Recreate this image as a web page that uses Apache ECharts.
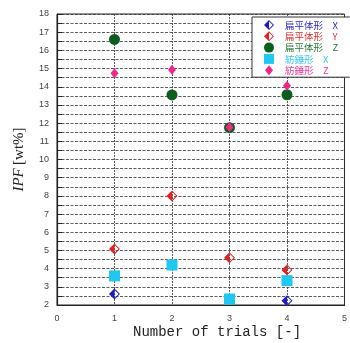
<!DOCTYPE html>
<html><head><meta charset="utf-8">
<script src="https://cdn.jsdelivr.net/npm/echarts@6/dist/echarts.min.js"></script>
<style>html,body{margin:0;padding:0;background:#fff}#c{width:350px;height:343px}</style>
</head><body><div id="c"></div>
<script>
const trials = [1, 2, 3, 4];
const seriesNames = ['扁平体形\u3000X', '扁平体形\u3000Y', '扁平体形\u3000Z', '紡錘形\u3000X', '紡錘形\u3000Z'];
const flatX = [2.6, null, null, 2.24];
const flatY = [5.08, 8.0, 4.6, 3.93];
const flatZ = [16.6, 13.55, 11.75, 13.56];
const spindleX = [3.6, 4.2, 2.33, 3.34];
const spindleZ = [14.74, 14.94, 11.77, 14.06];
const yTicks = [2, 18, 1];
const xTicks = [0, 5, 1];

const colors = ['#1a1acc', '#e52020', '#0b5e1e', '#1ec8f0', '#f0288c'];
const textColors = ['#2a2ad0', '#e03030', '#2a7a3a', '#33c8ee', '#ee3399'];
const halfDiamond = 'path://M0,-10 L10,0 L0,10 L-10,0 Z M0,-7.5 L-7.5,0 L0,7.5 L7.5,0 Z M0,-10 L0,10 L-10,0 Z';
const squarePath = 'path://M0,0 L10,0 L10,10 L0,10 Z';
const diamondPath = 'path://M0,-10 L8,0 L0,10 L-8,0 Z';

function pts(arr) { return trials.map((t, i) => arr[i] == null ? null : [t, arr[i]]).filter(Boolean); }
const dataSets = [flatX, flatY, flatZ, spindleX, spindleZ];
const symbols = [halfDiamond, halfDiamond, 'circle', squarePath, diamondPath];
const sizes = [11, 11, 11, 11, 10];
const legendSizes = [10, 10, 10, 9, 9];

const chart = echarts.init(document.getElementById('c'));
chart.setOption({
  animation: false,
  grid: { left: 57, top: 14, right: -0.5, bottom: 38, show: true, borderColor: '#222', borderWidth: 1 },
  xAxis: {
    type: 'value', min: xTicks[0], max: xTicks[1], interval: xTicks[2],
    axisLine: { show: true, lineStyle: { color: '#222', width: 1.2 } },
    axisTick: { show: false },
    axisLabel: { color: '#444', fontSize: 9, fontFamily: 'Liberation Sans', margin: 9 },
    splitLine: { show: true, lineStyle: { color: '#333', type: [2, 1], width: 0.8 } }
  },
  yAxis: {
    type: 'value', min: yTicks[0], max: yTicks[1], interval: yTicks[2],
    axisLine: { show: true, lineStyle: { color: '#222', width: 1.2 } },
    axisTick: { show: true, inside: true, length: 5, lineStyle: { color: '#222' } },
    minorTick: { show: true, splitNumber: 2, length: 5, lineStyle: { color: '#222' } },
    axisLabel: { color: '#444', fontSize: 9, fontFamily: 'Liberation Sans', margin: 8 },
    splitLine: { show: true, lineStyle: { color: '#333', type: [3, 1.5], width: 0.8 } },
    minorSplitLine: { show: true, lineStyle: { color: '#333', type: [3, 1.5], width: 0.8 } },
    name: '{i|IPF} {n|[wt%]}', nameLocation: 'middle', nameGap: 30, nameRotate: 90,
    nameTextStyle: {
      rich: {
        i: { fontFamily: 'Liberation Serif', fontStyle: 'italic', fontSize: 15, color: '#222' },
        n: { fontFamily: 'Liberation Serif', fontSize: 15, color: '#222' }
      }
    }
  },
  legend: {
    orient: 'vertical', left: 252, top: 17,
    padding: [3, 40, 2, 12], itemGap: 1.3, itemWidth: 22, itemHeight: 10,
    borderColor: '#333', borderWidth: 1, backgroundColor: '#fff',
    textStyle: { fontSize: 9.5, lineHeight: 10, fontFamily: 'Noto Sans CJK JP', padding: [0, 0, 0, 0] },
    data: seriesNames.map((n, i) => ({ name: n, icon: symbols[i], textStyle: { color: textColors[i] } }))
  },
  graphic: [{
    type: 'text', left: 133, top: 325,
    style: { text: 'Number of trials [-]', font: '14px "Liberation Mono"', fill: '#222' }
  }],
  series: seriesNames.map((n, i) => ({
    name: n, type: 'scatter', data: pts(dataSets[i]),
    symbol: symbols[i], symbolSize: sizes[i], symbolKeepAspect: true,
    itemStyle: { color: colors[i], opacity: 1 }
  }))
});
</script></body></html>
